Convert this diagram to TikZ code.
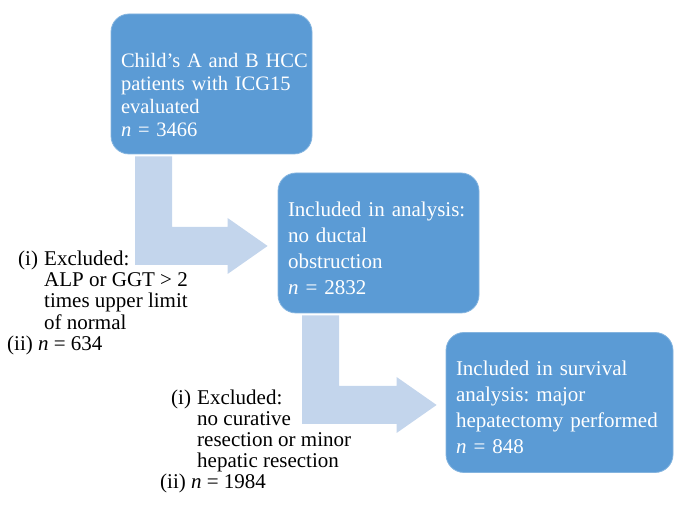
\documentclass[tikz,border=0pt]{standalone}
\usepackage{fontspec}
\setmainfont{Liberation Serif}
\usetikzlibrary{calc}

\definecolor{boxblue}{HTML}{5B9BD5}
\definecolor{arrowblue}{HTML}{C3D5EC}

% bent block arrow: #1 top of the stem, #2 the tip
\newcommand{\bentarrow}[2]{%
  \fill[arrowblue] let \p1=(#1), \p2=(#2) in
    (\x1-18.5pt,\y1) -- (\x1+18.5pt,\y1) -- (\x1+18.5pt,\y2+19pt) -- (\x2-40pt,\y2+19pt)
    -- (\x2-40pt,\y2+28pt) -- (\x2,\y2) -- (\x2-40pt,\y2-28pt) -- (\x2-40pt,\y2-19pt)
    -- (\x1-18.5pt,\y2-19pt) -- cycle;}
\newcommand{\exi}{\makebox[37pt][l]{\hspace*{11pt}(i)}}
\newcommand{\exind}{\hspace*{37pt}}
\newcommand{\topgap}[1]{\rule{0pt}{#1}}

\begin{document}
\frenchspacing
\begin{tikzpicture}[x=1pt, y=1pt,
    flowbox/.style={rectangle, rounded corners=18pt, fill=boxblue, draw=boxblue!75!white,
      line width=0.8pt, text=white, inner xsep=10pt, align=left, minimum height=140pt},
    exclnote/.style={anchor=base west, inner sep=0pt, font=\fontsize{21}{21}\selectfont}]
    \useasboundingbox (0,0) rectangle (689,516);

    % Draw the three stages
    \node[flowbox, text width=181pt, font=\fontsize{20.5}{23}\selectfont] (b1) at (211.5,432)
      {\topgap{36pt}\mbox{Child's A and B HCC}\\ patients with ICG15\\ evaluated\\ \textit{n} = 3466};
    \node[flowbox, text width=181pt, font=\fontsize{21}{26}\selectfont] (b2) at (378.5,273)
      {\topgap{25pt}Included in analysis:\\ no ductal\\ obstruction\\ \textit{n} = 2832};
    \node[flowbox, text width=207pt, font=\fontsize{21}{26}\selectfont] (b3) at (559.5,113.5)
      {\topgap{25pt}Included in survival\\ analysis: major\\ hepatectomy performed\\ \textit{n} = 848};

    % Draw the bent arrows between the stages
    \bentarrow{$(b1.south west)+(43,-2)$}{$(b2.west)+(-10,-3)$}
    \bentarrow{$(b2.south west)+(43,-2)$}{$(b3.west)+(-9,-2.5)$}

    % Excluded patients
    \node[exclnote] (ex1) at (7,250) {\begin{tabular}[t]{@{}l@{}}
      \exi Excluded:\\ \exind ALP or GGT > 2\\ \exind times upper limit\\ \exind of normal\\
      (ii) \textit{n} = 634\end{tabular}};
    \node[exclnote] (ex2) at (160,111) {\begin{tabular}[t]{@{}l@{}}
      \exi Excluded:\\ \exind no curative\\ \exind resection or minor\\ \exind hepatic resection\\
      (ii) \textit{n} = 1984\end{tabular}};
\end{tikzpicture}
\end{document}
